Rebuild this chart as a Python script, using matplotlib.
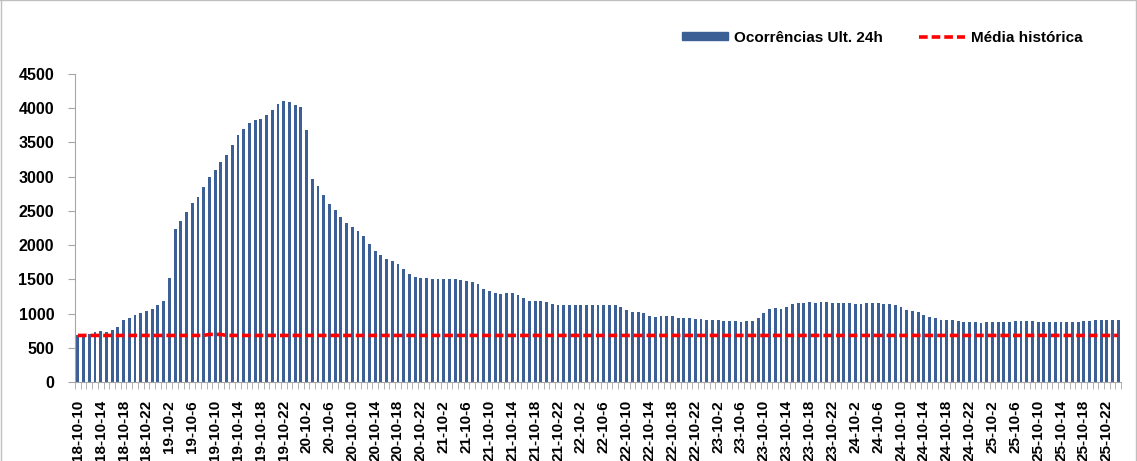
import numpy as np
import matplotlib.pyplot as plt
from matplotlib.lines import Line2D

# hourly occurrences, 18-10 10h .. 26-10 0h
ocorrencias = [
    685, 690, 700, 726, 740, 735, 760, 810, 900, 940, 980, 1005, 1030, 1060, 1130, 1180,
    1525, 2240, 2350, 2490, 2610, 2710, 2845, 2990, 3100, 3210, 3320, 3460, 3610, 3700,
    3785, 3825, 3840, 3900, 3975, 4065, 4100, 4085, 4050, 4015, 3675, 2965, 2865, 2735,
    2600, 2515, 2410, 2330, 2260, 2200, 2135, 2010, 1910, 1855, 1800, 1770, 1720, 1645,
    1585, 1530, 1520, 1520, 1510, 1510, 1505, 1505, 1505, 1490, 1480, 1465, 1430, 1355,
    1330, 1295, 1280, 1305, 1305, 1265, 1230, 1190, 1180, 1180, 1165, 1145, 1130, 1120,
    1120, 1120, 1120, 1120, 1120, 1120, 1120, 1120, 1120, 1090, 1050, 1025, 1025, 1005,
    965, 950, 965, 965, 965, 940, 940, 930, 925, 920, 910, 905, 900, 895, 890, 885,
    880, 885, 895, 930, 1010, 1060, 1080, 1070, 1100, 1140, 1150, 1160, 1165, 1160, 1165,
    1165, 1160, 1160, 1155, 1150, 1140, 1145, 1150, 1155, 1150, 1145, 1140, 1130, 1090,
    1050, 1040, 1020, 980, 950, 930, 910, 905, 900, 890, 880, 870, 870, 865, 870, 870,
    875, 870, 880, 885, 890, 885, 885, 880, 875, 870, 870, 875, 880, 880, 880, 885, 890,
    900, 905, 905, 905, 905,
]
media = [680] * 23 + [695] * 3 + [680] * 157

days = list(range(18, 26))
labels = []
for d in days:
    for h in range(0, 24):
        labels.append(f"{d}-10-{h}")
labels = labels[10:10 + len(ocorrencias)]

plt.rcParams['font.family'] = ['Liberation Sans', 'DejaVu Sans']

fig = plt.figure(figsize=(11.37, 4.61), dpi=100)
ax = fig.add_axes([0.066, 0.1714, 0.92, 0.6681])

x = np.arange(len(ocorrencias))
ax.bar(x, ocorrencias, width=0.5, color='#3C6096', label='Ocorrências Ult. 24h')
ax.plot(x, media, color='#FF0000', lw=2.6, dashes=(2.4, 1.1), label='Média histórica')

ax.set_xlim(-0.5, len(ocorrencias) - 0.5)
ax.set_ylim(0, 4500)
ax.set_yticks(range(0, 4501, 500))
ax.set_yticklabels([str(v) for v in range(0, 4501, 500)], fontsize=11.5, fontweight='bold')

ax.set_xticks(x[::4])
ax.set_xticklabels(labels[::4], rotation=90, fontsize=11, fontweight='bold')
ax.set_xticks(np.arange(-0.5, len(ocorrencias), 1), minor=True)
ax.tick_params(axis='x', which='major', length=0, pad=13)
ax.tick_params(axis='x', which='minor', length=5, color='#A6A6A6', direction='out')
ax.tick_params(axis='y', length=5, color='#A6A6A6', pad=10)

for s in ['top', 'right']:
    ax.spines[s].set_visible(False)
for s in ['left', 'bottom']:
    ax.spines[s].set_color('#A6A6A6')

handles = [plt.Rectangle((0, 0), 1, 1, color='#3C6096'),
           Line2D([0], [0], color='#FF0000', lw=2.6, dashes=(2.4, 1.1))]
leg = fig.legend(handles, ['Ocorrências Ult. 24h', 'Média histórica'], ncol=2,
                 loc='center', bbox_to_anchor=(0.776, 0.918), frameon=False,
                 prop={'weight': 'bold', 'size': 11}, handlelength=3.0,
                 handleheight=0.45, handletextpad=0.4, columnspacing=2.4)

# outer frame
for xs, ys in [([0.001, 0.001], [0, 1]), ([0.999, 0.999], [0, 1]), ([0, 1], [0.999, 0.999])]:
    fig.add_artist(Line2D(xs, ys, color='#BFBFBF', lw=1, transform=fig.transFigure))

fig.savefig('out.png', dpi=100)
